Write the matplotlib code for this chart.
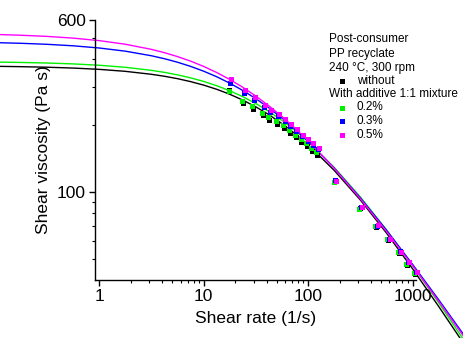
import matplotlib
matplotlib.use("Agg")
import matplotlib.pyplot as plt
from matplotlib.lines import Line2D
from matplotlib.ticker import FixedLocator, NullFormatter, FixedFormatter

plt.rcParams['font.family'] = ['Liberation Sans', 'DejaVu Sans']

# ---- data ----
series_names = ["without", "0.2%", "0.3%", "0.5%"]
series_colors = ["#000000", "#00f000", "#0000ff", "#ff00ff"]

# measured points
rate_low = [18.4, 24.6, 30.7, 38.5, 44.2, 52.8, 60.7, 69.2, 79.0, 90.0, 100.8, 112.6, 125.9]
rate_high = [186.6, 326, 470, 607, 768, 928, 1092]
rate_shift = [0.96, 0.94, 0.98, 1.0]   # small per-series offset of the actual shear rates

visc_without = [290, 252, 238, 222, 212, 203, 194, 185, 177, 169, 161, 154, 147,
                112, 85, 69.5, 60.5, 53, 47, 42.5]
visc_02 = [287, 258, 245, 228, 218, 210, 200, 191, 182, 174, 166, 159, 152,
           111, 84, 70, 61, 53.5, 47.5, 43]
visc_03 = [312, 280, 262, 242, 230, 221, 210, 199, 189, 179, 171, 163, 156,
           113, 86, 70, 61.5, 54, 48, 43.5]
visc_05 = [323, 289, 268, 247, 234.5, 225, 213.5, 202.5, 192, 182, 173, 166, 158,
           112, 85.5, 70.6, 61.4, 53.8, 48.1, 43.4]

# fitted curves
curve_rate = [0.11, 0.178, 0.316, 0.562, 1, 1.778, 3.162, 4.217, 5.623, 7.499, 10,
              13.34, 17.78, 23.71, 31.62, 42.17, 56.23, 74.99, 100, 177.8, 316.2,
              562.3, 1000, 1778, 3162]
curve_without = [370.2, 369.0, 366.9, 363.7, 358.8, 351.5, 340.8, 333.9, 325.6, 315.8, 304.5,
                 291.5, 276.8, 260.5, 242.7, 223.7, 203.9, 183.7, 163.6, 125.3, 92.1,
                 65.3, 45.0, 30.4, 20.3]
curve_02 = [386.9, 385.6, 383.3, 379.8, 374.5, 366.6, 355.1, 347.7, 338.8, 328.4, 316.4,
            302.6, 287.1, 269.9, 251.3, 231.4, 210.8, 189.8, 168.9, 129.3, 95.0,
            67.5, 46.6, 31.6, 21.1]
curve_03 = [473.6, 470.7, 465.8, 458.6, 448.2, 433.6, 413.4, 400.8, 386.4, 370.1, 352.0,
            332.2, 310.7, 287.9, 264.3, 240.1, 216.0, 192.3, 169.6, 128.4, 94.1,
            67.3, 47.1, 32.6, 22.3]
curve_05 = [515.6, 511.9, 505.8, 496.8, 484.0, 466.1, 441.8, 426.8, 409.8, 390.8, 369.9,
            347.1, 322.9, 297.6, 271.5, 245.3, 219.4, 194.4, 170.6, 128.0, 93.3,
            66.4, 46.5, 32.1, 21.9]

visc_all = [visc_without, visc_02, visc_03, visc_05]
curve_all = [curve_without, curve_02, curve_03, curve_05]

legend_header = ["Post-consumer", "PP recyclate", "240 \u00b0C, 300 rpm"]
legend_group = "With additive 1:1 mixture"

# ---- figure ----
W, H = 464, 338
fig = plt.figure(figsize=(W / 100, H / 100), dpi=100)
ax = fig.add_axes([95 / W, 1 - 280 / H, (416 - 95) / W, (280 - 20) / H])
ax.set_xscale('log')
ax.set_yscale('log')
ax.set_xlim(0.91, 1080)
ax.set_ylim(40, 600)

rates = rate_low + rate_high
for col, cur in zip(series_colors, curve_all):
    ax.plot(curve_rate, cur, color=col, lw=1.0, clip_on=False, zorder=2)
for col, vis, sh in zip(series_colors, visc_all, rate_shift):
    ax.plot([r * sh for r in rates], vis, ls='none', marker='s', ms=3.6,
            mfc=col, mec=col, mew=0, zorder=3, clip_on=False)

for s in ['top', 'right']:
    ax.spines[s].set_visible(False)
for s in ['left', 'bottom']:
    ax.spines[s].set_linewidth(1.0)

ax.xaxis.set_major_locator(FixedLocator([1, 10, 100, 1000]))
ax.xaxis.set_major_formatter(FixedFormatter(["1", "10", "100", "1000"]))
xminor = [m * d for d in [1, 10, 100] for m in range(2, 10)]
ax.xaxis.set_minor_locator(FixedLocator(xminor))
ax.xaxis.set_minor_formatter(NullFormatter())

ax.yaxis.set_major_locator(FixedLocator([100, 600]))
ax.yaxis.set_major_formatter(FixedFormatter(["100", "600"]))
ax.yaxis.set_minor_locator(FixedLocator([50, 60, 70, 80, 90, 200, 300, 400, 500]))
ax.yaxis.set_minor_formatter(NullFormatter())

ax.tick_params(which='major', direction='out', length=4.5, width=1.0, labelsize=12.5, pad=2)
ax.tick_params(which='minor', direction='out', length=2.5, width=0.8)

ax.set_xlabel("Shear rate (1/s)", fontsize=12.5, labelpad=5)
ax.set_ylabel("Shear viscosity (Pa s)", fontsize=12.5, labelpad=4)

# ---- legend (manual) ----
fs = 8.5
ytxt = [39.5, 53.5, 67.5]
for t, yy in zip(legend_header, ytxt):
    fig.text(329 / W, 1 - yy / H, t, fontsize=fs, va='center', ha='left')
fig.text(329 / W, 1 - 94.3 / H, legend_group, fontsize=fs, va='center', ha='left')
leg_y = [80.5, 107.5, 121, 135]
for name, col, yy in zip(series_names, series_colors, leg_y):
    fig.add_artist(Line2D([342.5 / W], [1 - yy / H], ls='none', marker='s', ms=3.6,
                          mfc=col, mec=col, mew=0, transform=fig.transFigure))
    fig.text(357 / W, 1 - yy / H, name, fontsize=fs, va='center', ha='left')

fig.savefig("out.png", dpi=100)
